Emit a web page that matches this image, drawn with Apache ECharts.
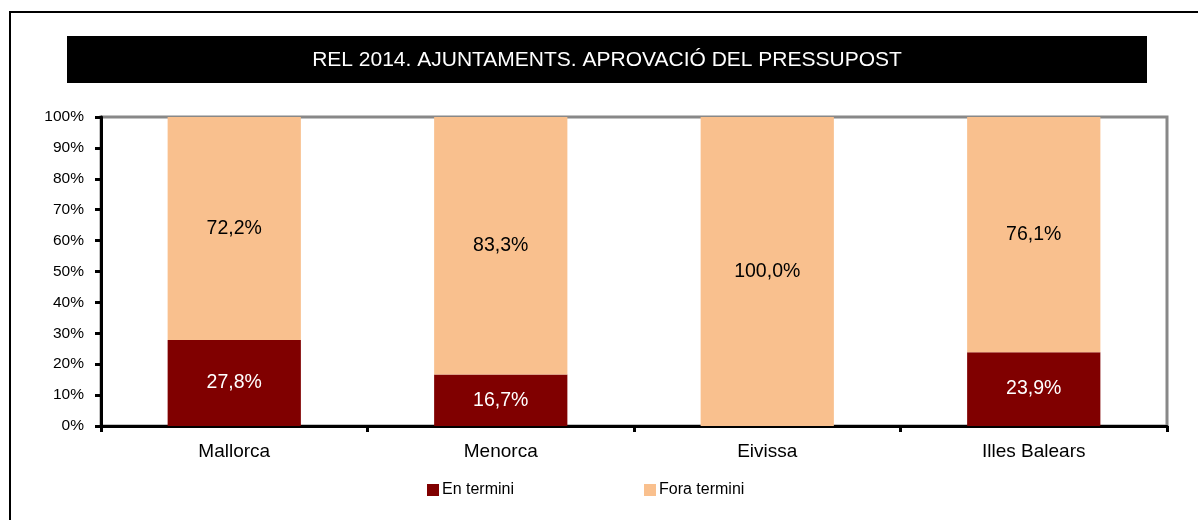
<!DOCTYPE html>
<html><head><meta charset="utf-8">
<script src="https://cdn.jsdelivr.net/npm/echarts@6/dist/echarts.min.js"></script>
<style>html,body{margin:0;padding:0;background:#fff}#c{width:1198px;height:520px}</style>
</head><body><div id="c"></div>
<script>
const categories = ['Mallorca', 'Menorca', 'Eivissa', 'Illes Balears'];
const enTermini = [27.8, 16.7, 0, 23.9];
const foraTermini = [72.2, 83.3, 100.0, 76.1];
const seriesNames = ['En termini', 'Fora termini'];
const titleText = 'REL 2014. AJUNTAMENTS. APROVACIÓ DEL PRESSUPOST';
const FONT = '"Liberation Sans", Arial, sans-serif';

const fmt = p => p.value === 0 ? '' : p.value.toFixed(1).replace('.', ',') + '%';

const chart = echarts.init(document.getElementById('c'), null, {renderer: 'canvas'});
chart.setOption({
  animation: false,
  textStyle: {fontFamily: FONT},
  graphic: [
    {type: 'polyline', shape: {points: [[10, 520], [10, 12], [1198, 12]]}, style: {stroke: '#000', lineWidth: 2, fill: null}, z: 0},
    {type: 'rect', shape: {x: 67, y: 36, width: 1080, height: 47}, style: {fill: '#000'}, z: 0},
    {type: 'text', x: 607, y: 60, style: {text: titleText, fill: '#fff', font: '21px ' + FONT, align: 'center', verticalAlign: 'middle'}, z: 1}
  ],
  legend: {
    left: 422, top: 477, itemWidth: 12, itemHeight: 12, itemGap: 130, icon: 'rect',
    textStyle: {fontSize: 16, color: '#000', fontFamily: FONT, padding: [0, 0, 0, -2]},
    data: seriesNames
  },
  grid: {left: 101, right: 31, top: 117, bottom: 94, show: true, borderColor: '#888', borderWidth: 3, backgroundColor: 'transparent'},
  xAxis: {
    type: 'category', data: categories,
    axisLine: {lineStyle: {color: '#000', width: 3}},
    axisTick: {show: true, length: 6, lineStyle: {color: '#000', width: 3}},
    axisLabel: {color: '#000', fontSize: 19, margin: 16, fontFamily: FONT}
  },
  yAxis: {
    type: 'value', min: 0, max: 100, interval: 10,
    axisLine: {show: true, lineStyle: {color: '#000', width: 3}},
    axisTick: {show: true, length: 6, lineStyle: {color: '#000', width: 3}},
    axisLabel: {color: '#000', fontSize: 15.5, margin: 17, formatter: '{value}%', fontFamily: FONT},
    splitLine: {show: false}
  },
  series: [
    {name: seriesNames[0], type: 'bar', stack: 's', data: enTermini, barWidth: '50%',
     itemStyle: {color: '#800000'},
     label: {show: true, position: 'inside', color: '#fff', fontSize: 19.5, formatter: fmt, fontFamily: FONT}},
    {name: seriesNames[1], type: 'bar', stack: 's', data: foraTermini, barWidth: '50%',
     itemStyle: {color: '#F9C08E'},
     label: {show: true, position: 'inside', color: '#000', fontSize: 19.5, formatter: fmt, fontFamily: FONT}}
  ]
});
</script></body></html>
